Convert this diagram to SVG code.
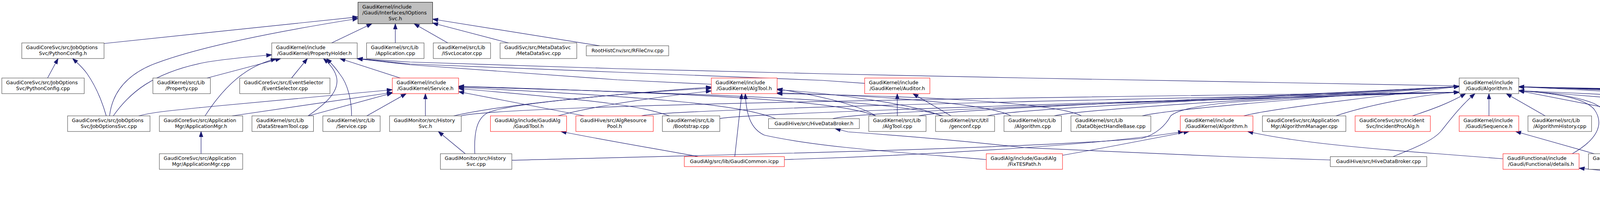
<svg xmlns="http://www.w3.org/2000/svg" width="6319" height="528" viewBox="0 0 6319 528">
<style>
rect{fill:#fff;stroke:#383838;stroke-width:1}
.r rect{stroke:#f00}
.mn rect{fill:#bfbfbf;stroke:#000}
text{font-family:"DejaVu Sans",sans-serif;font-size:12.6px;fill:#000}
.m{text-anchor:middle}
#edges path{fill:none;stroke:#191970;stroke-width:1.2;marker-end:url(#a)}
</style>
<defs>
<marker id="a" markerUnits="userSpaceOnUse" markerWidth="15" markerHeight="11" refX="14" refY="5" orient="auto"><path d="M0,0 L14,5 L0,10 z" fill="#191970" stroke="#191970" stroke-width="1"/></marker>
</defs>
<rect x="0" y="0" width="6319" height="528" style="fill:#fff;stroke:none"/>
<g id="edges">
<path d="M266.3,111.5 L916.4,43.3"/>
<path d="M280.5,297 C287,240 320,195 389,166 C500,122 700,82 916.4,47.5"/>
<path d="M849,110 L952,60.8"/>
<path d="M1012,110 L1012,60.8"/>
<path d="M1146.3,110 L1060,60.8"/>
<path d="M1301.8,110 L1107.5,59"/>
<path d="M1535,117.3 L1107.5,49"/>
<path d="M121.7,200 L148.7,150"/>
<path d="M272,297 C262,262 248,225 223,189 C212,173 200,163 186,150"/>
<path d="M290,297 C330,240 390,185 530,159 C600,148 650,145 695.7,140.5"/>
<path d="M530,200 L719,150"/>
<path d="M525,297 C555,250 600,195 660,167 C680,158 695,154 707,150"/>
<path d="M746.4,200 L787,150"/>
<path d="M788.6,297 C835,265 868,235 862,200 C858,180 845,165 828,150"/>
<path d="M900,297 C900,255 890,215 870,190 C860,175 848,162 836,150"/>
<path d="M1024.6,200 L870,150"/>
<path d="M1821,216 L1580,204.5 L1050,166 L914.4,150.4"/>
<path d="M2213.6,213.6 L2105,206 L1580,185 L1050,164 L914.4,150.4"/>
<path d="M3735.5,220 L3155,209.6 L2630,200 L2105,189 L1580,176 L1050,159 L914.4,150.4"/>
<path d="M514.7,394 L514.7,337"/>
<path d="M355,297 C390,288 420,285 530,274 L1004.3,230"/>
<path d="M594.3,297 L1004.3,237"/>
<path d="M790,297 L1004.3,238.5"/>
<path d="M939,297 L1040,240"/>
<path d="M1089,297 L1089,240"/>
<path d="M1496,297 L1174,235"/>
<path d="M1713.6,297 C1640,272 1560,260 1174,227"/>
<path d="M1985.7,304.2 C1900,270 1700,250 1174,224"/>
<path d="M2414,297 C2300,262 2000,245 1174,222.5"/>
<path d="M2242,297 C2150,262 1900,243 1174,221"/>
<path d="M1161.5,297 C1300,265 1600,240 1821,223"/>
<path d="M1215.6,394 C1213,340 1220,300 1253,287 C1300,270 1500,245 1821,226"/>
<path d="M1428.6,297 C1480,282 1600,258 1821,233"/>
<path d="M2242,297 C2200,270 2100,245 1989.4,228"/>
<path d="M2409,297 C2350,270 2150,240 1989.4,230"/>
<path d="M2588,297 C2530,265 2250,245 1989.4,238"/>
<path d="M2768.6,297 C2700,260 2300,245 1989.4,240"/>
<path d="M1881,401.5 L1899,240"/>
<path d="M2524.9,409 C2300,390 2100,378 1957,346.5 C1920,330 1910,290 1908,240"/>
<path d="M2297,297 L2297,240"/>
<path d="M2434.6,297 L2337,240"/>
<path d="M1180,297 C1300,270 2500,250 3735.5,236.5"/>
<path d="M1310.3,410.7 C1800,398 2600,382 2922,355 C2960,345 2985,320 2997,297 C3010,285 3050,272 3155,262 C3400,245 3600,238 3735.5,236.5"/>
<path d="M1642.6,297 C1700,280 2800,255 3735.5,236.5"/>
<path d="M1843,304 C1900,290 2900,260 3735.5,236.5"/>
<path d="M2132,304.2 C2200,285 3000,258 3735.5,236.5"/>
<path d="M2352,297 C2420,280 3100,255 3735.5,221.5"/>
<path d="M2527.6,297 C2600,278 3200,252 3735.5,221.5"/>
<path d="M2699,297 C2760,280 3300,250 3735.5,221.5"/>
<path d="M2924,297 C3000,278 3400,248 3735.5,221.5"/>
<path d="M3184,297 C3250,278 3550,245 3735.5,221.5"/>
<path d="M3420,297 C3500,270 3650,240 3735.5,236.5"/>
<path d="M3616,297 C3650,285 3700,270 3752,240"/>
<path d="M3566,401.5 C3620,380 3670,360 3690,335 C3710,310 3740,270 3776,240"/>
<path d="M3811.7,297 L3811.7,240"/>
<path d="M3955.6,297 L3856,240"/>
<path d="M4025,394 C4085,360 4110,320 4081,280 C4060,255 4000,240 3888,232.5"/>
<path d="M4160,394 C4150,330 4130,290 4080,265 C4030,245 3950,236 3888,232.5"/>
<path d="M4218.6,297 L3888,232.5"/>
<path d="M4472,297 C4400,280 4250,258 3888,232.5"/>
<path d="M4729,297 C4700,285 4600,262 3888,232.5"/>
<path d="M4963,297 C4900,280 4750,265 3888,222.5"/>
<path d="M5205,297 C5150,280 4900,255 3888,222.5"/>
<path d="M5397,297 C5350,282 5100,265 3888,222.5"/>
<path d="M5557.6,290 C5400,268 5200,255 3888,222.5"/>
<path d="M5848,297 C5800,285 5600,270 3888,222.5"/>
<path d="M6087,304.2 C6050,292 5900,278 3888,222.5"/>
<path d="M6205,394 C6240,350 6250,310 6228,295 C6200,275 6000,262 3888,222.5"/>
<path d="M5006,499.6 C5350,480 5700,430 5765,340 C5785,310 5770,290 5740,284 C5400,260 4600,240 3888,222.5"/>
<path d="M4081,394 L3880,337"/>
<path d="M2720,398 C2850,375 2950,355 3044,337"/>
<path d="M3847.7,407 L3680,394 C3420,375 3285,358 3194,337"/>
<path d="M2008,409 C2300,400 2800,375 3030,337"/>
<path d="M3405.5,410 L3155,402 L2625,378.6 C2438,358 2269,345 2171,338 L2138,329.5"/>
<path d="M1191,394 L1122,337"/>
<path d="M1788,401.5 C1700,385 1550,360 1436,337"/>
<path d="M6176,394 L6137,329.5"/>
<path d="M4727,496 C4500,478 4250,452 4042.4,431"/>
</g>
<g id="n_pyconfh"><rect x="55.8" y="110" width="210.5" height="40"/><text x="66.8" y="126.2">GaudiCoreSvc/src/JobOptions</text><text class="m" x="161.05" y="141.4">Svc/PythonConfig.h</text></g>
<g id="n_pyconfcpp"><rect x="4.7" y="200" width="210.9" height="40"/><text x="15.7" y="216.2">GaudiCoreSvc/src/JobOptions</text><text class="m" x="110.15" y="231.4">Svc/PythonConfig.cpp</text></g>
<g id="n_josvc"><rect x="173" y="297" width="211" height="40"/><text x="184" y="313.2">GaudiCoreSvc/src/JobOptions</text><text class="m" x="278.5" y="328.4">Svc/JobOptionsSvc.cpp</text></g>
<g id="n_property"><rect x="391.4" y="200" width="147.1" height="40"/><text x="402.4" y="216.2">GaudiKernel/src/Lib</text><text class="m" x="464.95" y="231.4">/Property.cpp</text></g>
<g id="n_appmgrh"><rect x="408" y="297" width="213.3" height="40"/><text x="419" y="313.2">GaudiCoreSvc/src/Application</text><text class="m" x="514.65" y="328.4">Mgr/ApplicationMgr.h</text></g>
<g id="n_appmgrcpp"><rect x="408" y="394" width="213.3" height="40"/><text x="419" y="410.2">GaudiCoreSvc/src/Application</text><text class="m" x="514.65" y="425.4">Mgr/ApplicationMgr.cpp</text></g>
<g id="n_main" class="mn"><rect x="916.4" y="5.7" width="191.1" height="55.1"/><text x="927.4" y="21.7">GaudiKernel/include</text><text x="927.4" y="36.7">/Gaudi/Interfaces/IOptions</text><text class="m" x="1011.95" y="51.7">Svc.h</text></g>
<g id="n_propholder"><rect x="695.7" y="110" width="218.7" height="40"/><text x="706.7" y="126.2">GaudiKernel/include</text><text class="m" x="805.05" y="141.4">/GaudiKernel/PropertyHolder.h</text></g>
<g id="n_appcpp"><rect x="938.4" y="110" width="147.1" height="40"/><text x="949.4" y="126.2">GaudiKernel/src/Lib</text><text class="m" x="1011.95" y="141.4">/Application.cpp</text></g>
<g id="n_evsel"><rect x="613.6" y="200" width="231.1" height="40"/><text x="624.6" y="216.2">GaudiCoreSvc/src/EventSelector</text><text class="m" x="729.15" y="231.4">/EventSelector.cpp</text></g>
<g id="n_serviceh" class="r"><rect x="1004.3" y="200" width="169.7" height="40"/><text x="1015.3" y="216.2">GaudiKernel/include</text><text class="m" x="1089.15" y="231.4">/GaudiKernel/Service.h</text></g>
<g id="n_dstool"><rect x="645" y="297" width="157.5" height="40"/><text x="656" y="313.2">GaudiKernel/src/Lib</text><text class="m" x="723.75" y="328.4">/DataStreamTool.cpp</text></g>
<g id="n_servicecpp"><rect x="826.5" y="297" width="146.7" height="40"/><text x="837.5" y="313.2">GaudiKernel/src/Lib</text><text class="m" x="899.85" y="328.4">/Service.cpp</text></g>
<g id="n_histsvch"><rect x="997.2" y="297" width="183.6" height="40"/><text x="1008.2" y="313.2">GaudiMonitor/src/History</text><text class="m" x="1089" y="328.4">Svc.h</text></g>
<g id="n_isvcloc"><rect x="1109.2" y="110" width="146.6" height="40"/><text x="1120.2" y="126.2">GaudiKernel/src/Lib</text><text class="m" x="1182.5" y="141.4">/ISvcLocator.cpp</text></g>
<g id="n_metadata"><rect x="1280.2" y="110" width="196.4" height="40"/><text x="1291.2" y="126.2">GaudiSvc/src/MetaDataSvc</text><text class="m" x="1378.4" y="141.4">/MetaDataSvc.cpp</text></g>
<g id="n_roothist"><rect x="1500.9" y="117.3" width="211" height="25.7"/><text class="m" x="1606.4" y="133.8">RootHistCnv/src/RFileCnv.cpp</text></g>
<g id="n_gauditool" class="r"><rect x="1255.5" y="297" width="195" height="40"/><text x="1266.5" y="313.2">GaudiAlg/include/GaudiAlg</text><text class="m" x="1353" y="328.4">/GaudiTool.h</text></g>
<g id="n_algrespool" class="r"><rect x="1474.2" y="297" width="198.1" height="40"/><text x="1485.2" y="313.2">GaudiHive/src/AlgResource</text><text class="m" x="1573.25" y="328.4">Pool.h</text></g>
<g id="n_histsvccpp"><rect x="1127.4" y="394" width="182.9" height="40"/><text x="1138.4" y="410.2">GaudiMonitor/src/History</text><text class="m" x="1218.85" y="425.4">Svc.cpp</text></g>
<g id="n_algtoolh" class="r"><rect x="1821" y="200" width="168.4" height="40"/><text x="1832" y="216.2">GaudiKernel/include</text><text class="m" x="1905.2" y="231.4">/GaudiKernel/AlgTool.h</text></g>
<g id="n_bootstrap"><rect x="1695.7" y="297" width="147" height="40"/><text x="1706.7" y="313.2">GaudiKernel/src/Lib</text><text class="m" x="1769.2" y="328.4">/Bootstrap.cpp</text></g>
<g id="n_hivedbh"><rect x="1967.4" y="304.2" width="232.6" height="25.3"/><text class="m" x="2083.7" y="320.5">GaudiHive/src/HiveDataBroker.h</text></g>
<g id="n_gaudicommon" class="r"><rect x="1751.8" y="401.5" width="256.2" height="25.5"/><text class="m" x="1879.9" y="417.8">GaudiAlg/src/lib/GaudiCommon.icpp</text></g>
<g id="n_auditorh" class="r"><rect x="2213.6" y="200" width="166.9" height="40"/><text x="2224.6" y="216.2">GaudiKernel/include</text><text class="m" x="2297.05" y="231.4">/GaudiKernel/Auditor.h</text></g>
<g id="n_algtoolcpp"><rect x="2224" y="297" width="146.7" height="40"/><text x="2235" y="313.2">GaudiKernel/src/Lib</text><text class="m" x="2297.35" y="328.4">/AlgTool.cpp</text></g>
<g id="n_genconf"><rect x="2395" y="297" width="151.2" height="40"/><text x="2406" y="313.2">GaudiKernel/src/Util</text><text class="m" x="2470.6" y="328.4">/genconf.cpp</text></g>
<g id="n_algorithmcpp"><rect x="2570.2" y="297" width="147.1" height="40"/><text x="2581.2" y="313.2">GaudiKernel/src/Lib</text><text class="m" x="2643.75" y="328.4">/Algorithm.cpp</text></g>
<g id="n_fixtes" class="r"><rect x="2524.9" y="394" width="195.1" height="40"/><text x="2535.9" y="410.2">GaudiAlg/include/GaudiAlg</text><text class="m" x="2622.45" y="425.4">/FixTESPath.h</text></g>
<g id="n_dohb"><rect x="2741.6" y="297" width="204.5" height="40"/><text x="2752.6" y="313.2">GaudiKernel/src/Lib</text><text class="m" x="2843.85" y="328.4">/DataObjectHandleBase.cpp</text></g>
<g id="n_kalgh" class="r"><rect x="3021.5" y="297" width="186" height="40"/><text x="3032.5" y="313.2">GaudiKernel/include</text><text class="m" x="3114.5" y="328.4">/GaudiKernel/Algorithm.h</text></g>
<g id="n_algmgr"><rect x="3231.8" y="297" width="213.6" height="40"/><text x="3242.8" y="313.2">GaudiCoreSvc/src/Application</text><text class="m" x="3338.6" y="328.4">Mgr/AlgorithmManager.cpp</text></g>
<g id="n_incproc" class="r"><rect x="3469.1" y="297" width="192.6" height="40"/><text x="3480.1" y="313.2">GaudiCoreSvc/src/Incident</text><text class="m" x="3565.4" y="328.4">Svc/IncidentProcAlg.h</text></g>
<g id="n_hivedbcpp"><rect x="3405.5" y="401.5" width="247.1" height="25.5"/><text class="m" x="3529.05" y="417.8">GaudiHive/src/HiveDataBroker.cpp</text></g>
<g id="n_galgh"><rect x="3735.5" y="200" width="152.5" height="40"/><text x="3746.5" y="216.2">GaudiKernel/include</text><text class="m" x="3811.75" y="231.4">/Gaudi/Algorithm.h</text></g>
<g id="n_sequence" class="r"><rect x="3735.5" y="297" width="152.5" height="40"/><text x="3746.5" y="313.2">GaudiKernel/include</text><text class="m" x="3811.75" y="328.4">/Gaudi/Sequence.h</text></g>
<g id="n_alghist"><rect x="3911.6" y="297" width="162.9" height="40"/><text x="3922.6" y="313.2">GaudiKernel/src/Lib</text><text class="m" x="3993.05" y="328.4">/AlgorithmHistory.cpp</text></g>
<g id="n_details" class="r"><rect x="3847.7" y="394" width="194.7" height="40"/><text x="3858.7" y="410.2">GaudiFunctional/include</text><text class="m" x="3945.05" y="425.4">/Gaudi/Functional/details.h</text></g>
<g id="n_precsvc"><rect x="4066.4" y="394" width="192.4" height="40"/><text x="4077.4" y="410.2">GaudiHive/src/Precedence</text><text class="m" x="4162.6" y="425.4">Svc.cpp</text></g>
<g id="n_stopper"><rect x="4200.7" y="297" width="217.3" height="40"/><text x="4211.7" y="313.2">GaudiTestSuite/src</text><text class="m" x="4309.35" y="328.4">/AlgSequencer/StopperAlg.cpp</text></g>
<g id="n_templated"><rect x="4442.7" y="297" width="234.6" height="40"/><text x="4453.7" y="313.2">GaudiTestSuite/src</text><text class="m" x="4560" y="328.4">/AlgSequencer/TemplatedAlg.cpp</text></g>
<g id="n_user"><rect x="4701.6" y="297" width="206.9" height="40"/><text x="4712.6" y="313.2">GaudiTestSuite/src</text><text class="m" x="4805.05" y="328.4">/ConditionAccessor/User.cpp</text></g>
<g id="n_merging" class="r"><rect x="4727" y="484" width="278.9" height="40"/><text x="4738" y="500.2">GaudiFunctional/include</text><text class="m" x="4866.45" y="515.4">/Gaudi/Functional/MergingTransformer.h</text></g>
<g id="n_counter"><rect x="4932.9" y="297" width="224.4" height="40"/><text x="4943.9" y="313.2">GaudiTestSuite/src</text><text class="m" x="5045.1" y="328.4">/Histograms/CounterHistos.cpp</text></g>
<g id="n_partprop" class="r"><rect x="5181" y="297" width="171.4" height="40"/><text x="5192" y="313.2">GaudiTestSuite/src</text><text class="m" x="5266.7" y="328.4">/PartProp/PartPropAlg.h</text></g>
<g id="n_reent" class="r"><rect x="5376.4" y="297" width="158.9" height="40"/><text x="5387.4" y="313.2">GaudiTestSuite/src</text><text class="m" x="5455.85" y="328.4">/ReEntAlg/ReEntAlg.h</text></g>
<g id="n_toolvisitor"><rect x="5559.6" y="290" width="192.3" height="54"/><text x="5570.6" y="306">GaudiTestSuite/src</text><text x="5570.6" y="321">/ToolVisitorTest/ToolVisitor</text><text class="m" x="5655.75" y="336">Test_test.cpp</text></g>
<g id="n_prgraph" class="r"><rect x="5826.4" y="297" width="187" height="40"/><text x="5837.4" y="313.2">GaudiHive/src/PRGraph</text><text class="m" x="5919.9" y="328.4">/PrecedenceRulesGraph.h</text></g>
<g id="n_algtask"><rect x="6037" y="304.2" width="179" height="25.3"/><text class="m" x="6126.5" y="320.5">GaudiHive/src/AlgTask.h</text></g>
<g id="n_avalanche"><rect x="6065" y="394" width="248.5" height="40"/><text x="6076" y="410.2">GaudiHive/src/AvalancheScheduler</text><text class="m" x="6189.25" y="425.4">Svc.cpp</text></g>
</svg>
